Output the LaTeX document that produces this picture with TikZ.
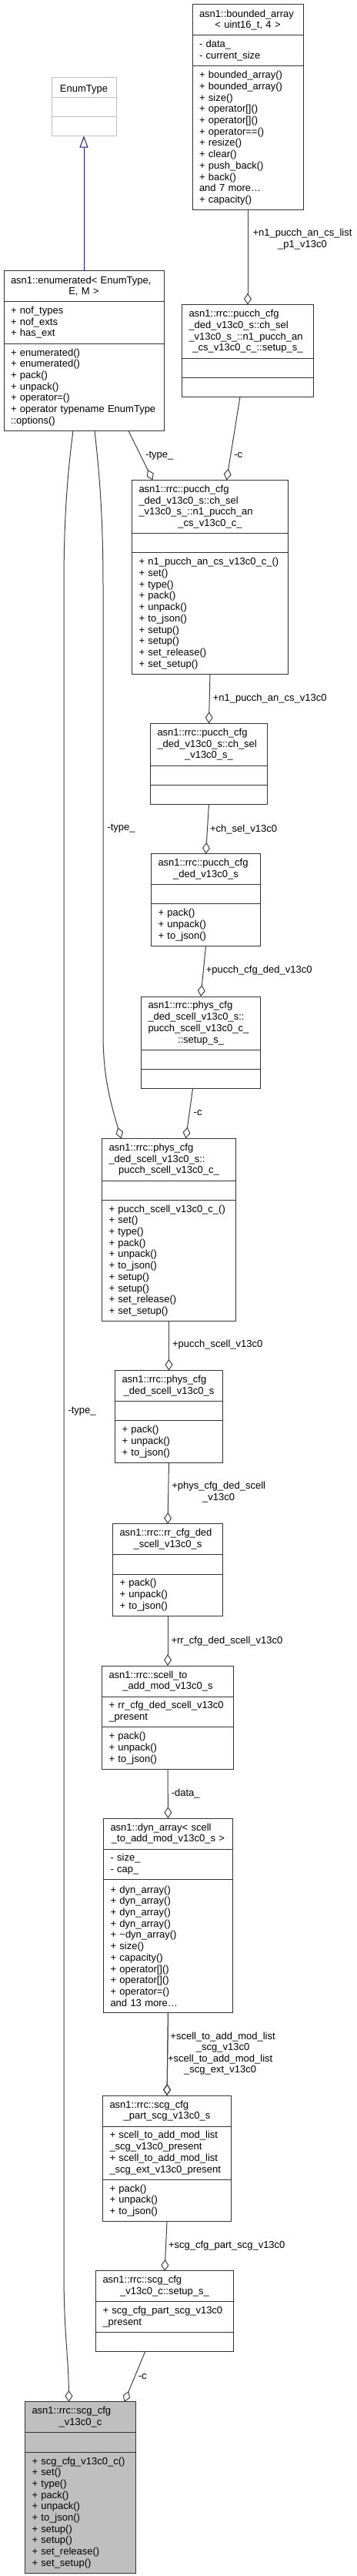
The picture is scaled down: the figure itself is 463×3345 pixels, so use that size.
\documentclass[tikz,border=0pt]{standalone}
\usepackage{fontspec}
\setmainfont{Liberation Sans}
\usetikzlibrary{arrows.meta,positioning}
\definecolor{boxline}{HTML}{333333}
\definecolor{edgegray}{HTML}{404040}
\definecolor{extgray}{HTML}{BFBFBF}
\definecolor{basefill}{HTML}{BFBFBF}
\definecolor{inhblue}{HTML}{191970}
\newcommand{\lastln}[1]{\par\makebox[\linewidth]{#1}}
\tikzset{
  sect/.style  ={draw=boxline,line width=1pt,fill=white,anchor=north,outer sep=0pt,
                 inner xsep=9pt,inner ysep=2pt,align=left},
  ext/.style   ={sect,draw=extgray},
  focus/.style ={sect,fill=basefill},
  rows/.style  ={minimum height={10.5pt+14.7pt*#1}},
  member/.style={-{Diamond[open,length=15pt,width=10pt]},line width=1pt,draw=edgegray},
  inherit/.style={-{Triangle[open,length=15pt,width=11pt]},line width=1pt,draw=inhblue},
  role/.style  ={inner sep=0pt,align=center}
}

\begin{document}
\begin{tikzpicture}[x=1pt,y=-1pt,font=\fontsize{13}{14.7}\selectfont,node distance=64pt]
  \useasboundingbox (0,0) rectangle (463,3345);

  \node[sect,rows=2,text width=126pt] (bnd) at (322,6) {asn1::bounded\_array\lastln{< uint16\_t, 4 >}};
  \node[sect,rows=2,text width=126pt,below=0pt of bnd] (bnd-a) {- data\_\\- current\_size};
  \node[sect,rows=12,text width=126pt,below=0pt of bnd-a] (bnd-m) {+ bounded\_array()\\+ bounded\_array()\\+ size()\\+ operator[]()\\+ operator[]()\\+ operator==()\\+ resize()\\+ clear()\\+ push\_back()\\+ back()\\and 7 more…\\+ capacity()};

  \node[ext,rows=1,text width=66pt] (etype) at (109,101) {\lastln{EnumType}};
  \node[ext,rows=1,text width=66pt,below=0pt of etype] (etype-a) {};
  \node[ext,rows=1,text width=66pt,below=0pt of etype-a] (etype-m) {};

  \node[sect,rows=2,text width=190pt,below=175pt of etype-m] (enm) {asn1::enumerated< EnumType,\lastln{E, M >}};
  \node[sect,rows=3,text width=190pt,below=0pt of enm] (enm-a) {+ nof\_types\\+ nof\_exts\\+ has\_ext};
  \node[sect,rows=7,text width=190pt,below=0pt of enm-a] (enm-m) {+ enumerated()\\+ enumerated()\\+ pack()\\+ unpack()\\+ operator=()\\+ operator typename EnumType\\::options()};

  \node[sect,rows=4,text width=153pt,below=123pt of bnd-m] (csetup) {asn1::rrc::pucch\_cfg\\\_ded\_v13c0\_s::ch\_sel\\\_v13c0\_s\_::n1\_pucch\_an\lastln{\_cs\_v13c0\_c\_::setup\_s\_}};
  \node[sect,rows=1,text width=153pt,below=0pt of csetup] (csetup-a) {};
  \node[sect,rows=1,text width=153pt,below=0pt of csetup-a] (csetup-m) {};

  \node[sect,rows=4,text width=185pt,below=108pt of csetup-m,xshift=-49pt] (n1c) {asn1::rrc::pucch\_cfg\\\_ded\_v13c0\_s::ch\_sel\\\_v13c0\_s\_::n1\_pucch\_an\lastln{\_cs\_v13c0\_c\_}};
  \node[sect,rows=1,text width=185pt,below=0pt of n1c] (n1c-a) {};
  \node[sect,rows=10,text width=185pt,below=0pt of n1c-a] (n1c-m) {+ n1\_pucch\_an\_cs\_v13c0\_c\_()\\+ set()\\+ type()\\+ pack()\\+ unpack()\\+ to\_json()\\+ setup()\\+ setup()\\+ set\_release()\\+ set\_setup()};

  \node[sect,rows=3,text width=134pt,below=of n1c-m,xshift=-1.5pt] (chsel) {asn1::rrc::pucch\_cfg\\\_ded\_v13c0\_s::ch\_sel\lastln{\_v13c0\_s\_}};
  \node[sect,rows=1,text width=134pt,below=0pt of chsel] (chsel-a) {};
  \node[sect,rows=1,text width=134pt,below=0pt of chsel-a] (chsel-m) {};

  \node[sect,rows=2,text width=124pt,below=64.4pt of chsel-m,xshift=-4pt] (pcd) {asn1::rrc::pucch\_cfg\lastln{\_ded\_v13c0\_s}};
  \node[sect,rows=1,text width=124pt,below=0pt of pcd] (pcd-a) {};
  \node[sect,rows=3,text width=124pt,below=0pt of pcd-a] (pcd-m) {+ pack()\\+ unpack()\\+ to\_json()};

  \node[sect,rows=4,text width=137pt,below=65.5pt of pcd-m,xshift=-6.5pt] (psetup) {asn1::rrc::phys\_cfg\\\_ded\_scell\_v13c0\_s::\\pucch\_scell\_v13c0\_c\_\lastln{::setup\_s\_}};
  \node[sect,rows=1,text width=137pt,below=0pt of psetup] (psetup-a) {};
  \node[sect,rows=1,text width=137pt,below=0pt of psetup-a] (psetup-m) {};

  \node[sect,rows=3,text width=156pt,below=64.7pt of psetup-m,xshift=-41.5pt] (pscell) {asn1::rrc::phys\_cfg\\\_ded\_scell\_v13c0\_s::\lastln{pucch\_scell\_v13c0\_c\_}};
  \node[sect,rows=1,text width=156pt,below=0pt of pscell] (pscell-a) {};
  \node[sect,rows=10,text width=156pt,below=0pt of pscell-a] (pscell-m) {+ pucch\_scell\_v13c0\_c\_()\\+ set()\\+ type()\\+ pack()\\+ unpack()\\+ to\_json()\\+ setup()\\+ setup()\\+ set\_release()\\+ set\_setup()};

  \node[sect,rows=2,text width=122pt,below=of pscell-m] (pcds) {asn1::rrc::phys\_cfg\lastln{\_ded\_scell\_v13c0\_s}};
  \node[sect,rows=1,text width=122pt,below=0pt of pcds] (pcds-a) {};
  \node[sect,rows=3,text width=122pt,below=0pt of pcds-a] (pcds-m) {+ pack()\\+ unpack()\\+ to\_json()};

  \node[sect,rows=2,text width=125pt,below=79.5pt of pcds-m,xshift=-1.5pt] (rrcfg) {asn1::rrc::rr\_cfg\_ded\lastln{\_scell\_v13c0\_s}};
  \node[sect,rows=1,text width=125pt,below=0pt of rrcfg] (rrcfg-a) {};
  \node[sect,rows=3,text width=125pt,below=0pt of rrcfg-a] (rrcfg-m) {+ pack()\\+ unpack()\\+ to\_json()};

  \node[sect,rows=2,text width=153pt,below=64.5pt of rrcfg-m] (scadd) {asn1::rrc::scell\_to\lastln{\_add\_mod\_v13c0\_s}};
  \node[sect,rows=2,text width=153pt,below=0pt of scadd] (scadd-a) {+ rr\_cfg\_ded\_scell\_v13c0\\\_present};
  \node[sect,rows=3,text width=153pt,below=0pt of scadd-a] (scadd-m) {+ pack()\\+ unpack()\\+ to\_json()};

  \node[sect,rows=2,text width=150pt,below=63.6pt of scadd-m,xshift=0.5pt] (dyn) {asn1::dyn\_array< scell\lastln{\_to\_add\_mod\_v13c0\_s >}};
  \node[sect,rows=2,text width=150pt,below=0pt of dyn] (dyn-a) {- size\_\\- cap\_};
  \node[sect,rows=11,text width=150pt,below=0pt of dyn-a] (dyn-m) {+ dyn\_array()\\+ dyn\_array()\\+ dyn\_array()\\+ dyn\_array()\\+ \textasciitilde dyn\_array()\\+ size()\\+ capacity()\\+ operator[]()\\+ operator[]()\\+ operator=()\\and 13 more…};

  \node[sect,rows=2,text width=149pt,below=108pt of dyn-m,xshift=-1.5pt] (scgpart) {asn1::rrc::scg\_cfg\lastln{\_part\_scg\_v13c0\_s}};
  \node[sect,rows=4,text width=149pt,below=0pt of scgpart] (scgpart-a) {+ scell\_to\_add\_mod\_list\\\_scg\_v13c0\_present\\+ scell\_to\_add\_mod\_list\\\_scg\_ext\_v13c0\_present};
  \node[sect,rows=3,text width=149pt,below=0pt of scgpart-a] (scgpart-m) {+ pack()\\+ unpack()\\+ to\_json()};

  \node[sect,rows=2,text width=161pt,below=of scgpart-m,xshift=-3pt] (scgsetup) {asn1::rrc::scg\_cfg\lastln{\_v13c0\_c::setup\_s\_}};
  \node[sect,rows=2,text width=161pt,below=0pt of scgsetup] (scgsetup-a) {+ scg\_cfg\_part\_scg\_v13c0\\\_present};
  \node[sect,rows=1,text width=161pt,below=0pt of scgsetup-a] (scgsetup-m) {};

  \node[focus,rows=2,text width=126pt,below=65pt of scgsetup-m,xshift=-109.5pt] (main) {asn1::rrc::scg\_cfg\lastln{\_v13c0\_c}};
  \node[focus,rows=1,text width=126pt,below=0pt of main] (main-a) {};
  \node[focus,rows=10,text width=126pt,below=0pt of main-a] (main-m) {+ scg\_cfg\_v13c0\_c()\\+ set()\\+ type()\\+ pack()\\+ unpack()\\+ to\_json()\\+ setup()\\+ setup()\\+ set\_release()\\+ set\_setup()};

  \draw[inherit] (enm.north) -- (etype-m.south);
  \draw[member] (bnd-m.south) -- node[role,pos=0.31,right=6pt]{+n1\_pucch\_an\_cs\_list\\\_p1\_v13c0} (csetup.north);
  \draw[member] ([xshift=58pt]enm-m.south) -- node[role,pos=0.5,right=6pt]{-type\_} ([xshift=-74.5pt]n1c.north);
  \draw[member] ([xshift=-10pt]csetup-m.south) -- node[role,pos=0.7,right=4pt]{-c} ([xshift=21.5pt]n1c.north);
  \draw[member] (n1c-m.south) -- node[role,right=4pt]{+n1\_pucch\_an\_cs\_v13c0} (chsel.north);
  \draw[member] (chsel-m.south) -- node[role,right=3pt]{+ch\_sel\_v13c0} (pcd.north);
  \draw[member] (pcd-m.south) -- node[role,pos=0.48,right=3pt]{+pucch\_cfg\_ded\_v13c0} (psetup.north);
  \draw[member] ([xshift=-10.5pt]psetup-m.south) -- node[role,pos=0.48,right=5pt]{-c} ([xshift=22pt]pscell.north);
  \draw[member] ([xshift=14pt]enm-m.south) .. controls (130,620) and (134,680) .. (134,760)
    -- node[role,pos=0.545,right=5pt]{-type\_} (134,1340)
    .. controls (134,1390) and (140,1420) .. ([xshift=-62pt]pscell.north);
  \draw[member] (pscell-m.south) -- node[role,pos=0.47,right=4pt]{+pucch\_scell\_v13c0} (pcds.north);
  \draw[member] (pcds-m.south) -- node[role,pos=0.48,right=4pt]{+phys\_cfg\_ded\_scell\\\_v13c0} (rrcfg.north);
  \draw[member] (rrcfg-m.south) -- node[role,right=4pt]{+rr\_cfg\_ded\_scell\_v13c0} (scadd.north);
  \draw[member] (scadd-m.south) -- node[role,right=4pt]{-data\_} (dyn.north);
  \draw[member] (dyn-m.south) -- node[role,pos=0.36,right=3pt]{+scell\_to\_add\_mod\_list\\\_scg\_v13c0} (scgpart.north);
  \draw[member] (dyn-m.south) -- node[role,pos=0.63,right=0pt]{+scell\_to\_add\_mod\_list\\\_scg\_ext\_v13c0} (scgpart.north);
  \draw[member] (scgpart-m.south) -- node[role,pos=0.48,right=3pt]{+scg\_cfg\_part\_scg\_v13c0} (scgsetup.north);
  \draw[member] ([xshift=-25.5pt]scgsetup-m.south) -- node[role,pos=0.49,right=4pt]{-c} ([xshift=57pt]main.north);
  \draw[member] ([xshift=-14pt]enm-m.south) .. controls (87,620) and (83,680) .. (83,760)
    -- node[role,pos=0.49,right=5pt]{-type\_} (83,2950)
    .. controls (83,3030) and (89,3060) .. ([xshift=-15pt]main.north);
\end{tikzpicture}
\end{document}
